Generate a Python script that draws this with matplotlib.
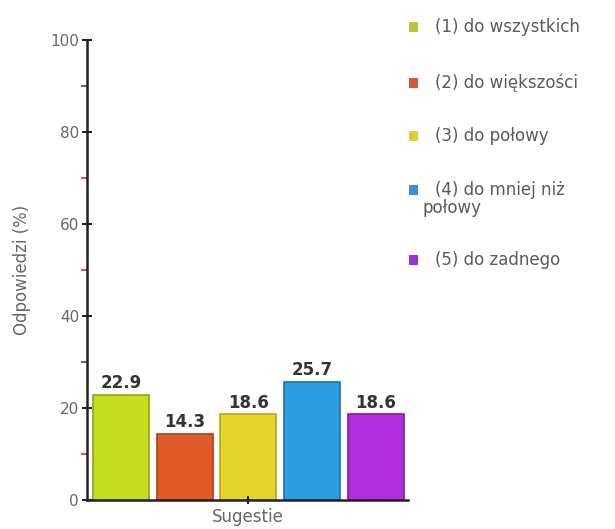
import matplotlib
matplotlib.use("Agg")
import matplotlib.pyplot as plt
from matplotlib.patches import Rectangle

categories = ["(1) do wszystkich", "(2) do większości", "(3) do połowy",
              "(4) do mniej niż\npołowy", "(5) do zadnego"]
values = [22.9, 14.3, 18.6, 25.7, 18.6]
value_labels = ["22.9", "14.3", "18.6", "25.7", "18.6"]
x_label = "Sugestie"
y_label = "Odpowiedzi (%)"
y_ticks = [0, 20, 40, 60, 80, 100]
y_minor = [10, 30, 50, 70, 90]

face_colors = ["#c4dd1e", "#e05a2a", "#e3d529", "#2b9ce0", "#b22fe0"]
edge_colors = ["#8fa60f", "#b03d12", "#b3a812", "#1c72ac", "#8118ad"]
legend_colors = ["#b9c83a", "#d65a33", "#d6d330", "#3d8fd6", "#9a34d8"]
minor_colors = ["#ff4444", "#666666", "#ff4444", "#ff4444", "#666666"]

fig = plt.figure(figsize=(6.15, 5.29), dpi=100)
ax = fig.add_axes([86.7 / 615, 1 - 500 / 529, (408 - 86.7) / 615, 460 / 529])

pos = list(range(len(values)))
bars = ax.bar(pos, values, width=0.88, color=face_colors, edgecolor=edge_colors, linewidth=1.2)
for b, lab in zip(bars, value_labels):
    ax.annotate(lab, (b.get_x() + b.get_width() / 2, b.get_height()),
                xytext=(0, 2), textcoords="offset points", ha="center", va="bottom",
                fontsize=12, fontweight="bold", color="#333333")

ax.set_xlim(-0.54, 4.51)
ax.set_ylim(0, 100)
ax.set_xticks([2])
ax.set_xticklabels([x_label], fontsize=12, color="#666666")
ax.set_yticks(y_ticks)
ax.set_yticklabels([str(t) for t in y_ticks], fontsize=11, color="#666666")
ax.set_yticks(y_minor, minor=True)
ax.tick_params(axis="y", which="major", direction="inout", length=7, width=1.5, color="#222222", pad=2)
ax.tick_params(axis="y", which="minor", direction="out", length=4, width=1.5)
ax.tick_params(axis="x", direction="inout", length=6, width=1.5, color="#222222", pad=3)
ax.set_ylabel(y_label, fontsize=12, color="#666666", labelpad=14)

for s in ["top", "right"]:
    ax.spines[s].set_visible(False)
for s in ["left", "bottom"]:
    ax.spines[s].set_linewidth(1.8)
    ax.spines[s].set_color("#222222")

# legend
legend_y = [27, 83, 136, 190, 260]
for c, lab, yy in zip(legend_colors, categories, legend_y):
    fy = 1 - yy / 529
    fig.add_artist(Rectangle((409 / 615, fy - 5 / 529), 9 / 615, 10 / 529,
                             transform=fig.transFigure, color=c, lw=0))
    tx = 435 / 615
    lines = lab.split("\n")
    fig.text(tx, fy, lines[0], fontsize=12, color="#5a5a5a", va="center", ha="left")
    if len(lines) > 1:
        fig.text(422 / 615, fy - 18 / 529, lines[1], fontsize=12, color="#5a5a5a", va="center", ha="left")

fig.canvas.draw()
for t, c in zip(ax.yaxis.get_minor_ticks(), minor_colors):
    t.tick1line.set_color(c)
    t.tick1line.set_markeredgecolor(c)

fig.savefig("out.png", dpi=100, facecolor="white")
